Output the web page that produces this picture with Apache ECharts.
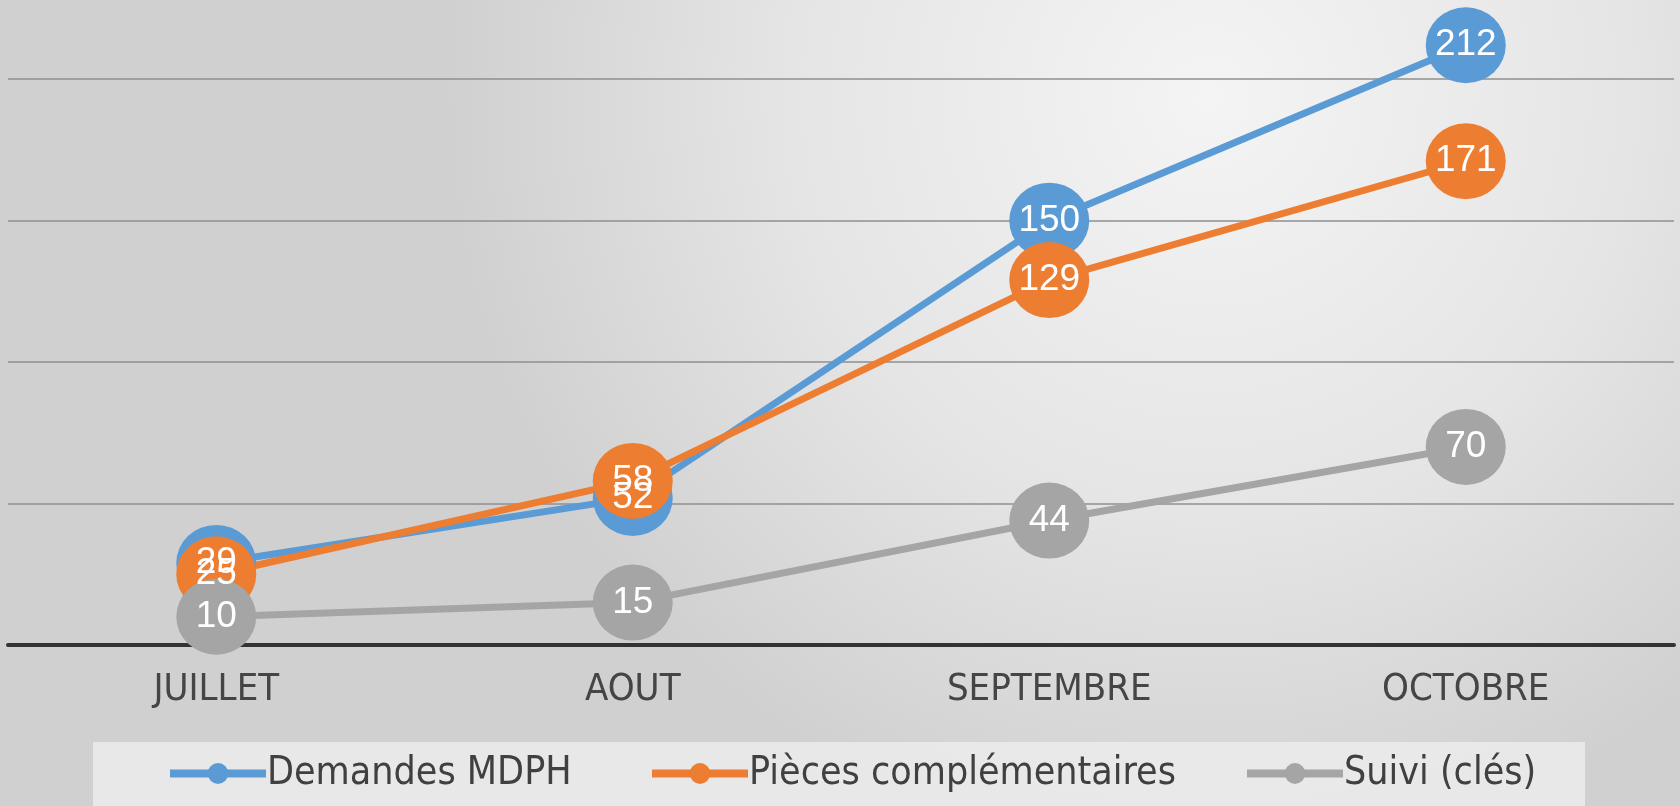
<!DOCTYPE html>
<html>
<head>
<meta charset="utf-8">
<script src="https://cdn.jsdelivr.net/npm/echarts@6/dist/echarts.min.js"></script>
<style>
html,body{margin:0;padding:0;width:1680px;height:806px;overflow:hidden;}
#chart{width:1680px;height:806px;}
</style>
</head>
<body>
<div id="chart"></div>
<script>
const categories = ['JUILLET', 'AOUT', 'SEPTEMBRE', 'OCTOBRE'];
const seriesNames = ['Demandes MDPH', 'Pièces complémentaires', 'Suivi (clés)'];
const demandes = [29, 52, 150, 212];
const pieces = [25, 58, 129, 171];
const suivi = [10, 15, 44, 70];
const colors = ['#5B9BD5', '#ED7D31', '#A5A5A5'];

const narrow = '"Liberation Sans Narrow", "DejaVu Sans Condensed", "Liberation Sans", sans-serif';
const values = [demandes, pieces, suivi];
const legendLefts = [166, 648, 1243];

const chart = echarts.init(document.getElementById('chart'));
const option = {
  animation: false,
  backgroundColor: new echarts.graphic.RadialGradient(0.72, 0.12, 0.95, [
    {offset: 0, color: '#f4f4f4'},
    {offset: 0.55, color: '#e5e5e5'},
    {offset: 1, color: '#d0d0d0'}
  ]),
  graphic: [{
    type: 'rect',
    shape: {x: 93, y: 742, width: 1492, height: 80},
    style: {fill: 'rgba(238,238,238,0.8)'},
    z: -1
  }],
  legend: seriesNames.map((n, i) => ({
    data: [n],
    left: legendLefts[i],
    top: 754,
    padding: 0,
    itemWidth: 96,
    itemHeight: 26,
    lineStyle: {width: 8},
    textStyle: {fontFamily: narrow, fontSize: 39, color: '#404040', padding: [0, 0, 0, -4]}
  })),
  grid: {left: 8, right: 6, top: 0, bottom: 161},
  xAxis: {
    type: 'category',
    data: categories,
    boundaryGap: true,
    axisLine: {lineStyle: {color: '#333333', width: 4}},
    axisTick: {show: false},
    axisLabel: {fontFamily: narrow, fontSize: 38, color: '#454545', margin: 26}
  },
  yAxis: {
    type: 'value',
    min: 0,
    max: 228,
    interval: 50,
    axisLabel: {show: false},
    axisLine: {show: false},
    axisTick: {show: false},
    splitLine: {showMaxLine: false, lineStyle: {color: '#8f8f8f', width: 1.5}}
  },
  series: seriesNames.map((n, i) => ({
    name: n,
    type: 'line',
    data: values[i],
    symbol: 'circle',
    symbolSize: [80, 76],
    lineStyle: {color: colors[i], width: 7},
    itemStyle: {color: colors[i]},
    label: {
      show: true,
      position: 'inside',
      color: '#ffffff',
      fontFamily: '"Liberation Sans", Arial, sans-serif',
      fontSize: 37
    }
  }))
};
chart.setOption(option);
</script>
</body>
</html>
